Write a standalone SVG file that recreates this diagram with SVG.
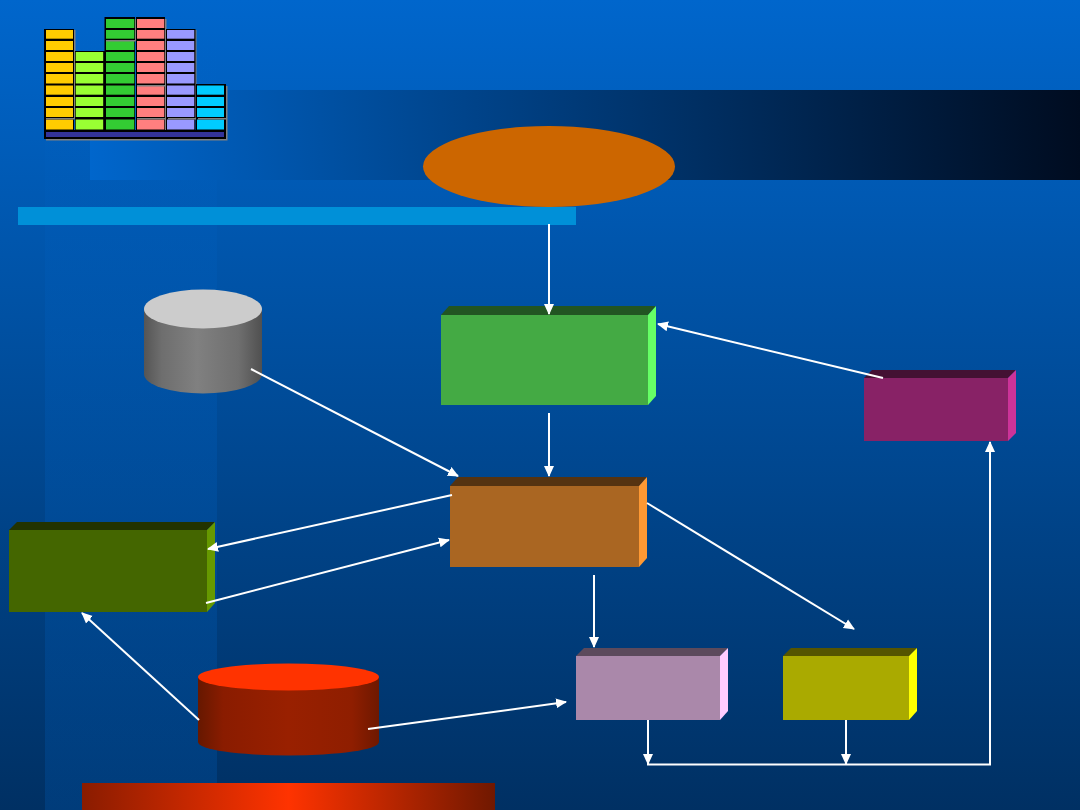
<svg xmlns="http://www.w3.org/2000/svg" width="1080" height="810" viewBox="0 0 1080 810">
<style>
.ln{stroke:#fff;stroke-width:2;fill:none}
.arr{marker-end:url(#tip)}
.c1{fill:#ffcc00}.c2{fill:#99ff33}.c3{fill:#33cc33}.c4{fill:#ff7f7f}.c5{fill:#9999ff}.c6{fill:#00ccff}
.sh{fill:#808080}
</style>
<defs>
<linearGradient id="bg" x1="0" y1="0" x2="0" y2="1"><stop offset="0" stop-color="#0066cc"/><stop offset="1" stop-color="#003063"/></linearGradient>
<linearGradient id="band" x1="0" y1="0" x2="1" y2="0"><stop offset="0" stop-color="#0066cc"/><stop offset="1" stop-color="#000c20"/></linearGradient>
<linearGradient id="pillar" x1="0" y1="0" x2="0" y2="1"><stop offset="0" stop-color="#0066cc" stop-opacity="0"/><stop offset="0.4" stop-color="#0066cc" stop-opacity="0.2"/><stop offset="1" stop-color="#0066cc" stop-opacity="0.22"/></linearGradient>
<linearGradient id="grey" x1="0" y1="0" x2="1" y2="0"><stop offset="0" stop-color="#555"/><stop offset="0.15" stop-color="#6e6e6e"/><stop offset="0.45" stop-color="#808080"/><stop offset="0.8" stop-color="#6f6f6f"/><stop offset="1" stop-color="#505050"/></linearGradient>
<linearGradient id="red" x1="0" y1="0" x2="1" y2="0"><stop offset="0" stop-color="#661800"/><stop offset="0.14" stop-color="#8a1c00"/><stop offset="0.5" stop-color="#992000"/><stop offset="0.85" stop-color="#8f1e00"/><stop offset="1" stop-color="#6e1800"/></linearGradient>
<linearGradient id="strip" x1="0" y1="0" x2="1" y2="0"><stop offset="0" stop-color="#8a1c00"/><stop offset="0.5" stop-color="#ff3300"/><stop offset="1" stop-color="#701800"/></linearGradient>
<marker id="tip" markerUnits="userSpaceOnUse" markerWidth="13" markerHeight="12" refX="10" refY="5.500" orient="auto"><path d="M0 0.500L11 5.500L0 10.500z" fill="#fff"/></marker>
</defs>

<!-- backdrop -->
<rect width="1080" height="810" fill="url(#bg)"/>
<rect x="45" y="22" width="172" height="788" fill="url(#pillar)"/>
<rect x="90" y="90" width="990" height="90" fill="url(#band)"/>
<rect x="18" y="207" width="558" height="18" fill="#0090d8"/>
<rect x="82" y="783" width="413" height="27" fill="url(#strip)"/>

<!-- bar chart emblem -->
<g id="chart">
<path class="sh" d="M74 30h1.500v89h-1.500zM135 19h1v22h-1zM165 19h1.500v111h-1.500zM195 30h1.500v89h-1.500zM226 86h1.500v54h-1.500zM46 139h181.500v1.500h-181.500z"/>
<path d="M44 29h30v101h-30zM75 51h29.500v79h-29.500zM104.500 17h30.500v113h-30.500zM136 17h29v113h-29zM166 29h29.500v101h-29.500zM196 84h30v46h-30zM44 130h182v9h-182z" fill="#000"/>
<g class="c1"><rect x="46" y="30" width="27" height="8.700"/><rect x="46" y="41" width="27" height="9"/><rect x="46" y="52" width="27" height="9"/><rect x="46" y="63" width="27" height="9"/><rect x="46" y="74" width="27" height="9.500"/><rect x="46" y="85.500" width="27" height="9.200"/><rect x="46" y="97" width="27" height="9"/><rect x="46" y="108" width="27" height="9"/><rect x="46" y="119.500" width="27" height="10"/></g>
<g class="c2"><rect x="75.700" y="52" width="27.500" height="9"/><rect x="75.700" y="63" width="27.500" height="9"/><rect x="75.700" y="74" width="27.500" height="9.500"/><rect x="75.700" y="85.500" width="27.500" height="9.200"/><rect x="75.700" y="97" width="27.500" height="9"/><rect x="75.700" y="108" width="27.500" height="9"/><rect x="75.700" y="119.500" width="27.500" height="10"/></g>
<g class="c3"><rect x="106" y="19" width="28.300" height="9"/><rect x="106" y="30" width="28.300" height="8.700"/><rect x="106" y="41" width="28.300" height="9"/><rect x="106" y="52" width="28.300" height="9"/><rect x="106" y="63" width="28.300" height="9"/><rect x="106" y="74" width="28.300" height="9.500"/><rect x="106" y="85.500" width="28.300" height="9.200"/><rect x="106" y="97" width="28.300" height="9"/><rect x="106" y="108" width="28.300" height="9"/><rect x="106" y="119.500" width="28.300" height="10"/></g>
<g class="c4"><rect x="137" y="19" width="27.300" height="9"/><rect x="137" y="30" width="27.300" height="8.700"/><rect x="137" y="41" width="27.300" height="9"/><rect x="137" y="52" width="27.300" height="9"/><rect x="137" y="63" width="27.300" height="9"/><rect x="137" y="74" width="27.300" height="9.500"/><rect x="137" y="85.500" width="27.300" height="9.200"/><rect x="137" y="97" width="27.300" height="9"/><rect x="137" y="108" width="27.300" height="9"/><rect x="137" y="119.500" width="27.300" height="10"/></g>
<g class="c5"><rect x="167" y="30" width="27.300" height="8.700"/><rect x="167" y="41" width="27.300" height="9"/><rect x="167" y="52" width="27.300" height="9"/><rect x="167" y="63" width="27.300" height="9"/><rect x="167" y="74" width="27.300" height="9.500"/><rect x="167" y="85.500" width="27.300" height="9.200"/><rect x="167" y="97" width="27.300" height="9"/><rect x="167" y="108" width="27.300" height="9"/><rect x="167" y="119.500" width="27.300" height="10"/></g>
<g class="c6"><rect x="197" y="85.500" width="27" height="9.200"/><rect x="197" y="97" width="27" height="9"/><rect x="197" y="108" width="27" height="9"/><rect x="197" y="119.500" width="27" height="10"/></g>
<!-- thin grey shadow ticks that cross some of the bars -->
<path class="sh" d="M46 118h28v1.500h-28zM137 118h28v1.500h-28zM168 118h28v1.500h-28zM198 118h28v1.500h-28zM106 40h29.500v1.500h-29.500zM137 85h28v1.500h-28z"/>
<rect x="46" y="132" width="178" height="5" fill="#333399"/>
</g>

<!-- nodes -->
<g id="oval"><ellipse cx="549" cy="166.500" rx="126" ry="40.500" fill="#cc6600"/></g>

<g id="disk-grey">
<path d="M144 309V374A59 19.500 0 0 0 262 374V309z" fill="url(#grey)"/>
<ellipse cx="203" cy="309" rx="59" ry="19.500" fill="#cccccc"/>
</g>

<g id="disk-red">
<path d="M198 677V742A90.500 13.500 0 0 0 379 742V677z" fill="url(#red)"/>
<ellipse cx="288.500" cy="677" rx="90.500" ry="13.500" fill="#ff3300"/>
</g>

<g id="box-green">
<path d="M441 315L449 306H656L648 315z" fill="#225522"/><path d="M648 315L656 306V396L648 405z" fill="#66ff66"/><rect x="441" y="315" width="207" height="90" fill="#44aa44"/>
</g>
<g id="box-purple">
<path d="M864 378L872 370H1016L1008 378z" fill="#441133"/><path d="M1008 378L1016 370V433L1008 441z" fill="#cc3399"/><rect x="864" y="378" width="144" height="63" fill="#882266"/>
</g>
<g id="box-brown">
<path d="M450 486L458 477H647L639 486z" fill="#553311"/><path d="M639 486L647 477V558L639 567z" fill="#ff9933"/><rect x="450" y="486" width="189" height="81" fill="#aa6622"/>
</g>
<g id="box-olive">
<path d="M9 530L17 522H215L207 530z" fill="#223300"/><path d="M207 530L215 522V603L207 612z" fill="#669900"/><rect x="9" y="530" width="198" height="82" fill="#446600"/>
</g>
<g id="box-mauve">
<path d="M576 656L584 648H728L720 656z" fill="#5c4a5c"/><path d="M720 656L728 648V711L720 720z" fill="#ffccff"/><rect x="576" y="656" width="144" height="64" fill="#aa88aa"/>
</g>
<g id="box-yellow">
<path d="M783 656L791 648H917L909 656z" fill="#555500"/><path d="M909 656L917 648V711L909 720z" fill="#ffff00"/><rect x="783" y="656" width="126" height="64" fill="#aaaa00"/>
</g>

<!-- connectors -->
<g id="connectors">
<path class="ln arr" d="M549 224V314"/>
<path class="ln arr" d="M549 413V476"/>
<path class="ln arr" d="M883 378L658 324"/>
<path class="ln arr" d="M251 369L458 476"/>
<path class="ln arr" d="M452 495L208 549"/>
<path class="ln arr" d="M206 603L449 540"/>
<path class="ln arr" d="M199 720L82 613"/>
<path class="ln arr" d="M368 729L566 702"/>
<path class="ln arr" d="M594 575V647"/>
<path class="ln arr" d="M647 503L854 629"/>
<path class="ln arr" d="M648 720V764"/>
<path class="ln arr" d="M846 720V764"/>
<path class="ln arr" d="M647 764.500H990V442"/>
</g>
</svg>
